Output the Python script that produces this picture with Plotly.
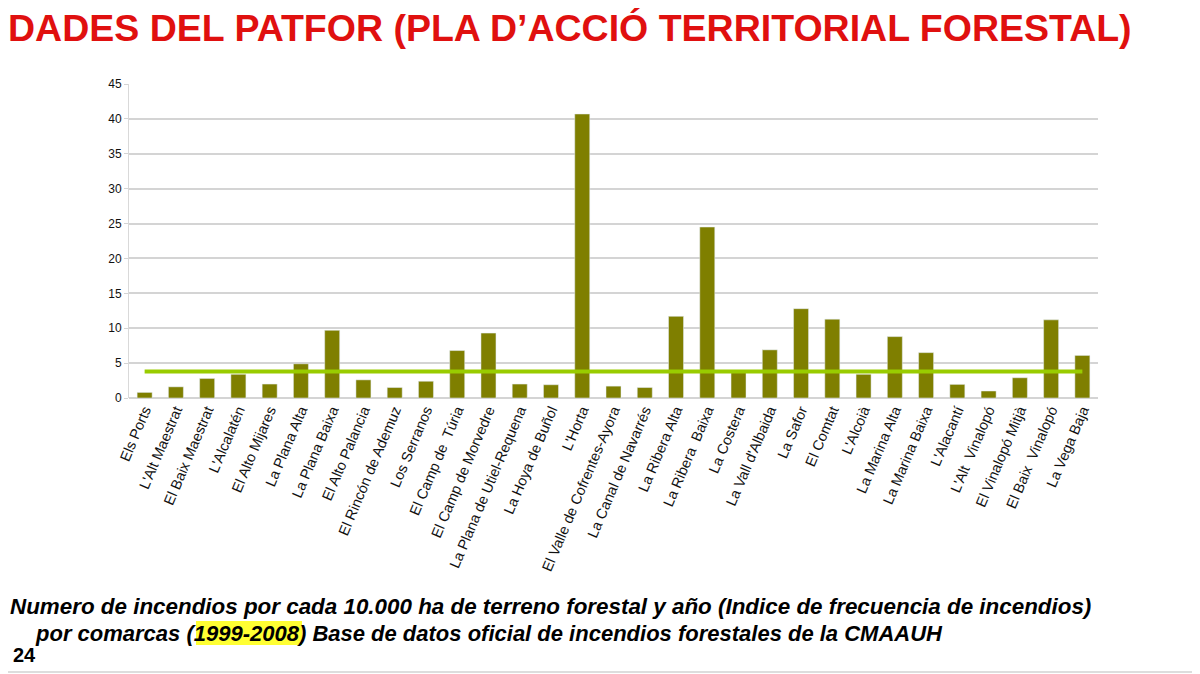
import plotly.graph_objects as go

comarcas = [
    "Els Ports", "L'Alt Maestrat", "El Baix Maestrat", "L'Alcalatén", "El Alto Mijares",
    "La Plana Alta", "La Plana Baixa", "El Alto Palancia", "El Rincón de Ademuz", "Los Serranos",
    "El Camp de  Túria", "El Camp de Morvedre", "La Plana de Utiel-Requena", "La Hoya de Buñol",
    "L'Horta", "El Valle de Cofrentes-Ayora", "La Canal de Navarrés", "La Ribera Alta",
    "La Ribera  Baixa", "La Costera", "La Vall d'Albaida", "La Safor", "El Comtat", "L'Alcoià",
    "La Marina Alta", "La Marina Baixa", "L'Alacantí", "L'Alt  Vinalopó", "El Vinalopó Mitjà",
    "El Baix  Vinalopó", "La Vega Baja",
]
indice = [
    0.8, 1.6, 2.8, 3.4, 2.0,
    4.9, 9.7, 2.6, 1.5, 2.4,
    6.8, 9.3, 2.0, 1.9,
    40.7, 1.7, 1.5, 11.7,
    24.5, 3.7, 6.9, 12.8, 11.3, 3.4,
    8.8, 6.5, 1.95, 1.0, 2.9,
    11.2, 6.1,
]
mitjana = 3.8

OFF = 8  # page body margin
W, H = 1200 - OFF, 674 - OFF
L, R, T, B = 129 - OFF, 102, 84 - OFF, 276
PW, PH = W - L - R, H - T - B


def px(x):
    return (x - OFF - L) / PW


def py(y):
    return (H - B - (y - OFF)) / PH


fig = go.Figure()
fig.add_trace(go.Bar(x=comarcas, y=indice, marker_color="#7f7f00", showlegend=False))
fig.add_trace(go.Scatter(x=[comarcas[0], comarcas[-1]], y=[mitjana, mitjana], mode="lines",
                         line=dict(color="#99cc00", width=4), showlegend=False))

fig.update_layout(
    width=W, height=H,
    margin=dict(l=L, r=R, t=T, b=B),
    paper_bgcolor="white", plot_bgcolor="white",
    bargap=0.52,
    font=dict(family="Liberation Sans, Arial", color="#000"),
    title=dict(text="<b>DADES DEL PATFOR (PLA D’ACCIÓ TERRITORIAL FORESTAL)</b>",
               x=0, xanchor="left", y=1 - 20 / H, yanchor="middle", pad=dict(l=0, t=0, b=0, r=0),
               font=dict(family="Liberation Sans, Arial", size=37.5, color="#e0100f")),
    xaxis=dict(tickangle=-67, tickfont=dict(size=14.5, color="#111"), showgrid=False,
               showline=False, ticks=""),
    yaxis=dict(range=[0, 45], dtick=5, showgrid=True, gridcolor="#d4d4d4", gridwidth=1.5,
               showline=True, linecolor="#d9d9d9", linewidth=1, ticks="outside", ticklen=4,
               tickcolor="#d4d4d4", tickfont=dict(size=12, color="#111"), zeroline=True,
               zerolinecolor="#d4d4d4", zerolinewidth=1.5),
    shapes=[
        dict(type="rect", xref="paper", yref="paper", x0=px(196), x1=px(302), y0=py(645), y1=py(621),
             fillcolor="#ffff33", line=dict(width=0), layer="below"),
        dict(type="line", xref="paper", yref="paper", x0=px(0), x1=px(1200), y0=py(672), y1=py(672),
             line=dict(color="#dddddd", width=2)),
    ],
    annotations=[
        dict(text="<b><i>Numero de incendios por cada 10.000 ha de terreno forestal y año (Indice de frecuencia de incendios)</i></b>",
             xref="paper", yref="paper", x=px(8), y=py(606), xanchor="left", yanchor="middle",
             showarrow=False, font=dict(size=22.4, color="#000")),
        dict(text="<b><i>por comarcas (1999-2008) Base de datos oficial de incendios forestales de la CMAAUH</i></b>",
             xref="paper", yref="paper", x=px(33), y=py(633), xanchor="left", yanchor="middle",
             showarrow=False, font=dict(size=22, color="#000")),
        dict(text="<b>24</b>", xref="paper", yref="paper", x=px(11), y=py(655), xanchor="left",
             yanchor="middle", showarrow=False, font=dict(size=20, color="#000")),
    ],
)

fig.write_html("out.html")
